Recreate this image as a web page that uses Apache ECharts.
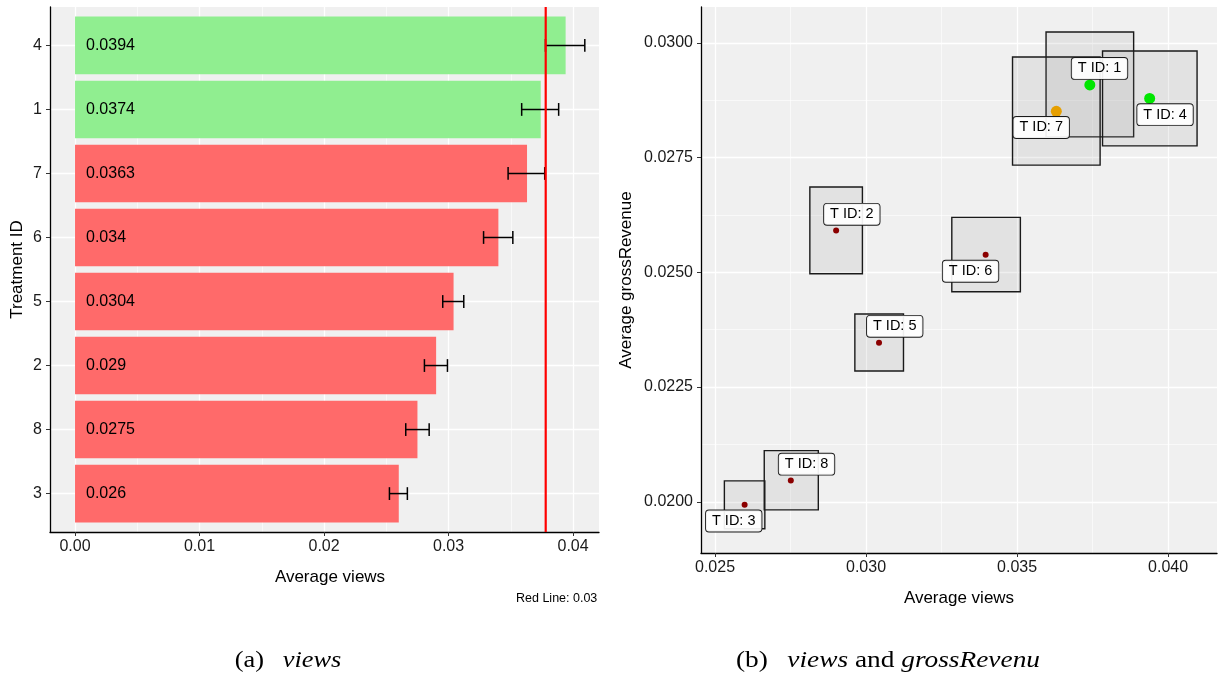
<!DOCTYPE html>
<html><head><meta charset="utf-8">
<script src="https://cdn.jsdelivr.net/npm/echarts@6/dist/echarts.min.js"></script>
<style>html,body{margin:0;padding:0;background:#fff;}#c{width:1219px;height:679px;}</style>
</head><body><div id="c"></div>
<script>
// ---------- Panel (a): views ----------
const treatmentIds = ['3', '8', '2', '5', '6', '7', '1', '4']; // bottom -> top
const avgViews = [0.026, 0.0275, 0.029, 0.0304, 0.034, 0.0363, 0.0374, 0.0394];
const viewsLo = [0.02525, 0.02656, 0.02806, 0.02953, 0.03281, 0.03478, 0.03587, 0.03778];
const viewsHi = [0.02669, 0.02844, 0.02991, 0.03122, 0.03516, 0.03772, 0.03884, 0.04094];
const barGroup = ['below', 'below', 'below', 'below', 'below', 'below', 'above', 'above'];
const redLine = 0.0378;
const redLineText = 'Red Line: 0.03';
const leftXTicks = [0, 0.01, 0.02, 0.03, 0.04];
const leftXMinor = [0.005, 0.015, 0.025, 0.035];
const leftYTicks = [1, 2, 3, 4, 5, 6, 7, 8];

// ---------- Panel (b): views and grossRevenue ----------
const scatterIds = ['1', '2', '3', '4', '5', '6', '7', '8'];
const scatViews = [0.03741, 0.02901, 0.02598, 0.03939, 0.03043, 0.03396, 0.03630, 0.02751];
const scatRevenue = [0.029085, 0.025915, 0.019933, 0.02879, 0.023467, 0.025383, 0.02851, 0.020462];
const boxViewsLo = [0.03596, 0.02814, 0.02531, 0.03783, 0.02963, 0.03284, 0.03485, 0.02663];
const boxViewsHi = [0.03886, 0.02988, 0.02665, 0.04096, 0.03124, 0.03511, 0.03775, 0.02842];
const boxRevLo = [0.027953, 0.02497, 0.01941, 0.027757, 0.02285, 0.024578, 0.027337, 0.019824];
const boxRevHi = [0.03024, 0.02686, 0.020455, 0.029826, 0.024092, 0.026198, 0.029695, 0.021115];
const pointGroup = ['best', 'other', 'other', 'best', 'other', 'other', 'mid', 'other'];
const labelViews = [0.03773, 0.02953, 0.02562, 0.03990, 0.03095, 0.03346, 0.03580, 0.02803];
const labelRevenue = [0.029445, 0.026265, 0.019580, 0.028436, 0.023824, 0.025024, 0.028158, 0.020819];
const rightXTicks = [0.025, 0.030, 0.035, 0.040];
const rightXMinor = [0.0275, 0.0325, 0.0375];
const rightYTicks = [0.0200, 0.0225, 0.0250, 0.0275, 0.0300];
const rightYMinor = [0.02125, 0.02375, 0.02625, 0.02875];

const SANS = '"Liberation Sans", Arial, sans-serif';
const SERIF = '"Liberation Serif", serif';
const TXT = '#1a1a1a';
const barColors = { above: '#90EE90', below: '#FF6A6A' };
const pointColors = { best: '#00E600', mid: '#E69F00', other: '#8B0000' };
const pointSizes = { best: 11, mid: 11, other: 6 };

function majorX(gridIndex, min, max, ticks, digits, name, namePad) {
  return {
    type: 'value', gridIndex, min, max, position: 'bottom',
    name, nameLocation: 'middle', nameGap: 37,
    nameTextStyle: { color: '#000', fontSize: 17, fontFamily: SANS, padding: namePad },
    axisLine: { show: true, onZero: false, lineStyle: { color: '#000', width: 1.3 } },
    axisTick: { show: true, length: 4, customValues: ticks, lineStyle: { color: '#333', width: 1 } },
    axisLabel: { show: true, customValues: ticks, margin: 7, color: TXT, fontSize: 16, fontFamily: SANS,
      formatter: v => Number(v).toFixed(digits) },
    splitLine: { show: true, lineStyle: { color: '#FFFFFF', width: 1.3 } },
    minorTick: { show: false }, minorSplitLine: { show: false }
  };
}
function minorX(gridIndex, min, max, ticks) {
  return {
    type: 'value', gridIndex, min, max, position: 'top',
    axisLine: { show: false, onZero: false }, axisLabel: { show: false },
    axisTick: { show: false, customValues: ticks },
    splitLine: { show: true, lineStyle: { color: '#FFFFFF', width: 0.6 } }
  };
}

const XL = [-0.00201, 0.04208];
const XR = [0.024536, 0.04162];
const YR = [0.018883, 0.030784];

const captionRich = {
  i: { fontStyle: 'italic', fontSize: 24, fontFamily: SERIF, fill: '#000' },
  sp: { width: 17, fontSize: 24, fontFamily: SERIF }
};

const option = {
  animation: false,
  backgroundColor: '#FFFFFF',
  grid: [
    { left: 50, top: 7, width: 549, height: 525, show: true, backgroundColor: '#F0F0F0', borderWidth: 0, containLabel: false, outerBoundsMode: 'none' },
    { left: 701, top: 7, width: 516, height: 546, show: true, backgroundColor: '#F0F0F0', borderWidth: 0, containLabel: false, outerBoundsMode: 'none' }
  ],
  xAxis: [
    majorX(0, XL[0], XL[1], leftXTicks, 2, 'Average views', [0, 0, 0, 11]),
    minorX(0, XL[0], XL[1], leftXMinor),
    majorX(1, XR[0], XR[1], rightXTicks, 3, 'Average views', [0, 0, 0, 0]),
    minorX(1, XR[0], XR[1], rightXMinor)
  ],
  yAxis: [
    {
      type: 'value', gridIndex: 0, min: 0.4, max: 8.6, position: 'left',
      name: 'Treatment ID', nameLocation: 'middle', nameGap: 24,
      nameTextStyle: { color: '#000', fontSize: 17, fontFamily: SANS },
      axisLine: { show: true, onZero: false, lineStyle: { color: '#000', width: 1.3 } },
      axisTick: { show: true, length: 4, customValues: leftYTicks, lineStyle: { color: '#333', width: 1 } },
      axisLabel: { show: true, customValues: leftYTicks, margin: 8, color: TXT, fontSize: 16, fontFamily: SANS,
        formatter: v => treatmentIds[Math.round(v) - 1] },
      splitLine: { show: true, lineStyle: { color: '#FFFFFF', width: 1.3 } }
    },
    {
      type: 'value', gridIndex: 1, min: YR[0], max: YR[1], position: 'left',
      name: 'Average grossRevenue', nameLocation: 'middle', nameGap: 66,
      nameTextStyle: { color: '#000', fontSize: 17, fontFamily: SANS },
      axisLine: { show: true, onZero: false, lineStyle: { color: '#000', width: 1.3 } },
      axisTick: { show: true, length: 4, customValues: rightYTicks, lineStyle: { color: '#333', width: 1 } },
      axisLabel: { show: true, customValues: rightYTicks, margin: 8, color: TXT, fontSize: 16, fontFamily: SANS,
        formatter: v => Number(v).toFixed(4) },
      splitLine: { show: true, lineStyle: { color: '#FFFFFF', width: 1.3 } }
    },
    {
      type: 'value', gridIndex: 1, min: YR[0], max: YR[1], position: 'right',
      axisLine: { show: false, onZero: false }, axisLabel: { show: false },
      axisTick: { show: false, customValues: rightYMinor },
      splitLine: { show: true, lineStyle: { color: '#FFFFFF', width: 0.6 } }
    }
  ],
  series: [
    // bars with value labels
    {
      type: 'custom', xAxisIndex: 0, yAxisIndex: 0, z: 2,
      encode: { x: 0, y: 1 },
      data: avgViews.map((v, i) => [v, i + 1]),
      renderItem: (params, api) => {
        const v = api.value(0), p = api.value(1);
        const a = api.coord([0, p]), b = api.coord([v, p]);
        const h = api.size([0, 0.9])[1];
        return {
          type: 'group', children: [
            { type: 'rect', shape: { x: a[0], y: a[1] - h / 2, width: b[0] - a[0], height: h },
              style: { fill: barColors[barGroup[params.dataIndex]] } },
            { type: 'text', style: { text: String(avgViews[params.dataIndex]), x: a[0] + 11, y: a[1],
              align: 'left', verticalAlign: 'middle', fill: '#000', font: '16px ' + SANS } }
          ]
        };
      }
    },
    // error bars
    {
      type: 'custom', xAxisIndex: 0, yAxisIndex: 0, z: 3,
      encode: { x: [0, 1], y: 2 },
      data: viewsLo.map((lo, i) => [lo, viewsHi[i], i + 1]),
      renderItem: (params, api) => {
        const p = api.value(2);
        const a = api.coord([api.value(0), p]), b = api.coord([api.value(1), p]);
        const c = api.size([0, 0.2])[1] / 2;
        const st = { stroke: '#000', lineWidth: 1.5 };
        return {
          type: 'group', children: [
            { type: 'line', shape: { x1: a[0], y1: a[1], x2: b[0], y2: b[1] }, style: st },
            { type: 'line', shape: { x1: a[0], y1: a[1] - c, x2: a[0], y2: a[1] + c }, style: st },
            { type: 'line', shape: { x1: b[0], y1: b[1] - c, x2: b[0], y2: b[1] + c }, style: st }
          ]
        };
      }
    },
    // red reference line
    {
      type: 'custom', xAxisIndex: 0, yAxisIndex: 0, z: 4,
      encode: { x: 0 },
      data: [[redLine]],
      renderItem: (params, api) => {
        const cs = params.coordSys;
        const x = api.coord([api.value(0), 1])[0];
        return { type: 'line', shape: { x1: x, y1: cs.y, x2: x, y2: cs.y + cs.height },
          style: { stroke: '#FF0000', lineWidth: 2.2 } };
      }
    },
    // CI boxes
    {
      type: 'custom', xAxisIndex: 2, yAxisIndex: 1, z: 2,
      encode: { x: [0, 1], y: [2, 3] },
      data: boxViewsLo.map((lo, i) => [lo, boxViewsHi[i], boxRevLo[i], boxRevHi[i]]),
      renderItem: (params, api) => {
        const tl = api.coord([api.value(0), api.value(3)]);
        const br = api.coord([api.value(1), api.value(2)]);
        return { type: 'rect', shape: { x: tl[0], y: tl[1], width: br[0] - tl[0], height: br[1] - tl[1] },
          style: { fill: 'rgba(140,140,140,0.14)', stroke: '#1a1a1a', lineWidth: 1.4 } };
      }
    },
    // points
    {
      type: 'scatter', xAxisIndex: 2, yAxisIndex: 1, z: 3,
      symbol: 'circle',
      data: scatViews.map((v, i) => ({
        value: [v, scatRevenue[i]],
        symbolSize: pointSizes[pointGroup[i]],
        itemStyle: { color: pointColors[pointGroup[i]], opacity: 1 }
      }))
    },
    // labels
    {
      type: 'custom', xAxisIndex: 2, yAxisIndex: 1, z: 5,
      encode: { x: 0, y: 1 },
      data: labelViews.map((v, i) => [v, labelRevenue[i]]),
      renderItem: (params, api) => {
        const c = api.coord([api.value(0), api.value(1)]);
        return { type: 'text', style: {
          text: 'T ID: ' + scatterIds[params.dataIndex], x: c[0], y: c[1],
          align: 'center', verticalAlign: 'middle', fill: '#000', font: '14.5px ' + SANS,
          lineHeight: 16, backgroundColor: 'rgba(255,255,255,0.92)', borderColor: '#1a1a1a', borderWidth: 0.9,
          borderRadius: 3, padding: [3, 6, 2, 6]
        } };
      }
    }
  ],
  graphic: [
    { type: 'text', x: 516, y: 599, style: { text: redLineText, align: 'left', verticalAlign: 'middle',
      fill: '#000', font: '12.5px ' + SANS } },
    { type: 'text', x: 288, y: 661, scaleX: 1.1, style: {
      text: '(a){sp| }{i|views}', align: 'center', verticalAlign: 'middle', fill: '#000',
      font: '24px ' + SERIF, rich: captionRich } },
    { type: 'text', x: 888, y: 661, scaleX: 1.14, style: {
      text: '(b){sp| }{i|views} and {i|grossRevenu}', align: 'center', verticalAlign: 'middle', fill: '#000',
      font: '24px ' + SERIF, rich: captionRich } }
  ]
};

const chart = echarts.init(document.getElementById('c'), null, { renderer: 'canvas' });
chart.setOption(option);
</script>
</body></html>
